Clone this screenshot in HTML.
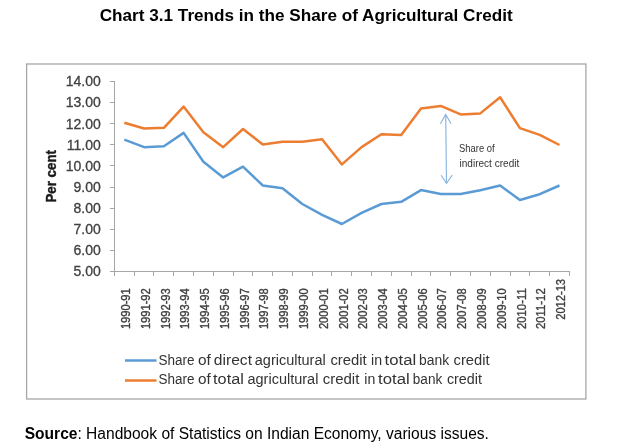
<!DOCTYPE html>
<html><head><meta charset="utf-8">
<style>
html,body{margin:0;padding:0;background:#fff;}
body{width:623px;height:448px;overflow:hidden;}
svg{display:block;font-family:"Liberation Sans", sans-serif;will-change:transform;}
</style></head><body>
<svg width="623" height="448" viewBox="0 0 623 448">
<text x="99.7" y="20.7" font-weight="bold" font-size="16.5" fill="#000" textLength="413" lengthAdjust="spacingAndGlyphs">Chart 3.1 Trends in the Share of Agricultural Credit</text>
<rect x="26.6" y="64" width="559.3" height="335" fill="none" stroke="#a6a6a6" stroke-width="1.3"/>
<path d="M114.5 81 V276 M110 271.5 H570" stroke="#a6a6a6" stroke-width="1" fill="none"/>
<path d="M110 81.5 H114 M110 102.5 H114 M110 123.5 H114 M110 144.5 H114 M110 165.5 H114 M110 187.5 H114 M110 208.5 H114 M110 229.5 H114 M110 250.5 H114 M110 271.5 H114 M114.5 272 V276 M134.5 272 V276 M153.5 272 V276 M173.5 272 V276 M193.5 272 V276 M213.5 272 V276 M233.5 272 V276 M252.5 272 V276 M272.5 272 V276 M292.5 272 V276 M312.5 272 V276 M331.5 272 V276 M351.5 272 V276 M371.5 272 V276 M391.5 272 V276 M411.5 272 V276 M430.5 272 V276 M450.5 272 V276 M470.5 272 V276 M490.5 272 V276 M510.5 272 V276 M529.5 272 V276 M549.5 272 V276 M569.5 272 V276" stroke="#a6a6a6" stroke-width="1" fill="none"/>
<text x="100.8" y="86.3" font-size="14" fill="#404040" stroke="#404040" stroke-width="0.3" text-anchor="end">14.00</text>
<text x="100.8" y="107.4" font-size="14" fill="#404040" stroke="#404040" stroke-width="0.3" text-anchor="end">13.00</text>
<text x="100.8" y="128.5" font-size="14" fill="#404040" stroke="#404040" stroke-width="0.3" text-anchor="end">12.00</text>
<text x="100.8" y="149.6" font-size="14" fill="#404040" stroke="#404040" stroke-width="0.3" text-anchor="end">11.00</text>
<text x="100.8" y="170.7" font-size="14" fill="#404040" stroke="#404040" stroke-width="0.3" text-anchor="end">10.00</text>
<text x="100.8" y="191.8" font-size="14" fill="#404040" stroke="#404040" stroke-width="0.3" text-anchor="end">9.00</text>
<text x="100.8" y="213.0" font-size="14" fill="#404040" stroke="#404040" stroke-width="0.3" text-anchor="end">8.00</text>
<text x="100.8" y="234.1" font-size="14" fill="#404040" stroke="#404040" stroke-width="0.3" text-anchor="end">7.00</text>
<text x="100.8" y="255.2" font-size="14" fill="#404040" stroke="#404040" stroke-width="0.3" text-anchor="end">6.00</text>
<text x="100.8" y="276.3" font-size="14" fill="#404040" stroke="#404040" stroke-width="0.3" text-anchor="end">5.00</text>
<text transform="translate(129.9,288.3) rotate(-90)" x="0" y="0" font-size="12" fill="#404040" stroke="#404040" stroke-width="0.35" text-anchor="end" textLength="40.8" lengthAdjust="spacingAndGlyphs">1990-91</text>
<text transform="translate(149.7,288.3) rotate(-90)" x="0" y="0" font-size="12" fill="#404040" stroke="#404040" stroke-width="0.35" text-anchor="end" textLength="40.8" lengthAdjust="spacingAndGlyphs">1991-92</text>
<text transform="translate(169.5,288.3) rotate(-90)" x="0" y="0" font-size="12" fill="#404040" stroke="#404040" stroke-width="0.35" text-anchor="end" textLength="40.8" lengthAdjust="spacingAndGlyphs">1992-93</text>
<text transform="translate(189.2,288.3) rotate(-90)" x="0" y="0" font-size="12" fill="#404040" stroke="#404040" stroke-width="0.35" text-anchor="end" textLength="40.8" lengthAdjust="spacingAndGlyphs">1993-94</text>
<text transform="translate(209.0,288.3) rotate(-90)" x="0" y="0" font-size="12" fill="#404040" stroke="#404040" stroke-width="0.35" text-anchor="end" textLength="40.8" lengthAdjust="spacingAndGlyphs">1994-95</text>
<text transform="translate(228.8,288.3) rotate(-90)" x="0" y="0" font-size="12" fill="#404040" stroke="#404040" stroke-width="0.35" text-anchor="end" textLength="40.8" lengthAdjust="spacingAndGlyphs">1995-96</text>
<text transform="translate(248.6,288.3) rotate(-90)" x="0" y="0" font-size="12" fill="#404040" stroke="#404040" stroke-width="0.35" text-anchor="end" textLength="40.8" lengthAdjust="spacingAndGlyphs">1996-97</text>
<text transform="translate(268.4,288.3) rotate(-90)" x="0" y="0" font-size="12" fill="#404040" stroke="#404040" stroke-width="0.35" text-anchor="end" textLength="40.8" lengthAdjust="spacingAndGlyphs">1997-98</text>
<text transform="translate(288.1,288.3) rotate(-90)" x="0" y="0" font-size="12" fill="#404040" stroke="#404040" stroke-width="0.35" text-anchor="end" textLength="40.8" lengthAdjust="spacingAndGlyphs">1998-99</text>
<text transform="translate(307.9,288.3) rotate(-90)" x="0" y="0" font-size="12" fill="#404040" stroke="#404040" stroke-width="0.35" text-anchor="end" textLength="40.8" lengthAdjust="spacingAndGlyphs">1999-00</text>
<text transform="translate(327.7,288.3) rotate(-90)" x="0" y="0" font-size="12" fill="#404040" stroke="#404040" stroke-width="0.35" text-anchor="end" textLength="40.8" lengthAdjust="spacingAndGlyphs">2000-01</text>
<text transform="translate(347.5,288.3) rotate(-90)" x="0" y="0" font-size="12" fill="#404040" stroke="#404040" stroke-width="0.35" text-anchor="end" textLength="40.8" lengthAdjust="spacingAndGlyphs">2001-02</text>
<text transform="translate(367.2,288.3) rotate(-90)" x="0" y="0" font-size="12" fill="#404040" stroke="#404040" stroke-width="0.35" text-anchor="end" textLength="40.8" lengthAdjust="spacingAndGlyphs">2002-03</text>
<text transform="translate(387.0,288.3) rotate(-90)" x="0" y="0" font-size="12" fill="#404040" stroke="#404040" stroke-width="0.35" text-anchor="end" textLength="40.8" lengthAdjust="spacingAndGlyphs">2003-04</text>
<text transform="translate(406.8,288.3) rotate(-90)" x="0" y="0" font-size="12" fill="#404040" stroke="#404040" stroke-width="0.35" text-anchor="end" textLength="40.8" lengthAdjust="spacingAndGlyphs">2004-05</text>
<text transform="translate(426.6,288.3) rotate(-90)" x="0" y="0" font-size="12" fill="#404040" stroke="#404040" stroke-width="0.35" text-anchor="end" textLength="40.8" lengthAdjust="spacingAndGlyphs">2005-06</text>
<text transform="translate(446.4,288.3) rotate(-90)" x="0" y="0" font-size="12" fill="#404040" stroke="#404040" stroke-width="0.35" text-anchor="end" textLength="40.8" lengthAdjust="spacingAndGlyphs">2006-07</text>
<text transform="translate(466.2,288.3) rotate(-90)" x="0" y="0" font-size="12" fill="#404040" stroke="#404040" stroke-width="0.35" text-anchor="end" textLength="40.8" lengthAdjust="spacingAndGlyphs">2007-08</text>
<text transform="translate(485.9,288.3) rotate(-90)" x="0" y="0" font-size="12" fill="#404040" stroke="#404040" stroke-width="0.35" text-anchor="end" textLength="40.8" lengthAdjust="spacingAndGlyphs">2008-09</text>
<text transform="translate(505.7,288.3) rotate(-90)" x="0" y="0" font-size="12" fill="#404040" stroke="#404040" stroke-width="0.35" text-anchor="end" textLength="40.8" lengthAdjust="spacingAndGlyphs">2009-10</text>
<text transform="translate(525.5,288.3) rotate(-90)" x="0" y="0" font-size="12" fill="#404040" stroke="#404040" stroke-width="0.35" text-anchor="end" textLength="40.8" lengthAdjust="spacingAndGlyphs">2010-11</text>
<text transform="translate(545.3,288.3) rotate(-90)" x="0" y="0" font-size="12" fill="#404040" stroke="#404040" stroke-width="0.35" text-anchor="end" textLength="40.8" lengthAdjust="spacingAndGlyphs">2011-12</text>
<text transform="translate(565.1,279.0) rotate(-90)" x="0" y="0" font-size="12" fill="#404040" stroke="#404040" stroke-width="0.35" text-anchor="end" textLength="40.8" lengthAdjust="spacingAndGlyphs">2012-13</text>
<text transform="translate(56.0,202.6) rotate(-90)" font-size="14" font-weight="bold" fill="#1a1a1a" stroke="#1a1a1a" stroke-width="0.4" textLength="52.6" lengthAdjust="spacingAndGlyphs">Per cent</text>
<polyline points="124.3,139.6 144.1,147.2 163.9,146.3 183.6,132.9 203.4,161.7 223.2,177.4 243.0,166.7 262.8,185.5 282.5,188.2 302.3,204.0 322.1,214.8 341.9,224.0 361.6,212.8 381.4,204.0 401.2,201.8 421.0,190.1 440.8,193.9 460.6,193.9 480.3,190.2 500.1,185.5 519.9,200.0 539.7,194.2 559.5,185.5" fill="none" stroke="#5b9bd5" stroke-width="2.5" stroke-linejoin="round" stroke-linecap="butt"/>
<polyline points="124.3,122.7 144.1,128.5 163.9,127.8 183.6,106.6 203.4,132.2 223.2,147.2 243.0,129.0 262.8,144.5 282.5,141.8 302.3,141.8 322.1,139.2 341.9,164.4 361.6,147.1 381.4,134.3 401.2,134.9 421.0,108.4 440.8,105.9 460.6,114.4 480.3,113.4 500.1,97.3 519.9,128.1 539.7,134.9 559.5,145.0" fill="none" stroke="#ed7d31" stroke-width="2.5" stroke-linejoin="round" stroke-linecap="butt"/>
<path d="M445.7 114.5 L446.5 183.5 M440.4 123.8 L445.7 114.5 L451 123.8 M441.2 175.2 L446.5 183.5 L452.2 175.2" stroke="#8db8e2" stroke-width="1.2" fill="none"/>
<text x="459.1" y="151.8" font-size="10.5" fill="#333" textLength="35.5" lengthAdjust="spacingAndGlyphs">Share of</text>
<text x="459.5" y="167" font-size="10.5" fill="#333" textLength="59.8" lengthAdjust="spacingAndGlyphs">indirect credit</text>
<path d="M125 360.5 H156.5" stroke="#5b9bd5" stroke-width="2.5"/>
<path d="M125 380.5 H156.5" stroke="#ed7d31" stroke-width="2.5"/>
<text x="158.4" y="365" font-size="13.8" fill="#333" textLength="36.0" lengthAdjust="spacingAndGlyphs">Share</text>
<text x="198.0" y="365" font-size="13.8" fill="#333" textLength="12.8" lengthAdjust="spacingAndGlyphs">of</text>
<text x="213.8" y="365" font-size="13.8" fill="#333" textLength="38.2" lengthAdjust="spacingAndGlyphs">direct</text>
<text x="254.8" y="365" font-size="13.8" fill="#333" textLength="70.9" lengthAdjust="spacingAndGlyphs">agricultural</text>
<text x="330.4" y="365" font-size="13.8" fill="#333" textLength="36.2" lengthAdjust="spacingAndGlyphs">credit</text>
<text x="371.1" y="365" font-size="13.8" fill="#333" textLength="11.0" lengthAdjust="spacingAndGlyphs">in</text>
<text x="384.6" y="365" font-size="13.8" fill="#333" textLength="31.6" lengthAdjust="spacingAndGlyphs">total</text>
<text x="419.0" y="365" font-size="13.8" fill="#333" textLength="30.1" lengthAdjust="spacingAndGlyphs">bank</text>
<text x="453.6" y="365" font-size="13.8" fill="#333" textLength="36.0" lengthAdjust="spacingAndGlyphs">credit</text>
<text x="158.4" y="384.3" font-size="13.8" fill="#333" textLength="36.0" lengthAdjust="spacingAndGlyphs">Share</text>
<text x="198.0" y="384.3" font-size="13.8" fill="#333" textLength="12.8" lengthAdjust="spacingAndGlyphs">of</text>
<text x="213.1" y="384.3" font-size="13.8" fill="#333" textLength="30.7" lengthAdjust="spacingAndGlyphs">total</text>
<text x="247.5" y="384.3" font-size="13.8" fill="#333" textLength="70.9" lengthAdjust="spacingAndGlyphs">agricultural</text>
<text x="322.7" y="384.3" font-size="13.8" fill="#333" textLength="36.7" lengthAdjust="spacingAndGlyphs">credit</text>
<text x="364.3" y="384.3" font-size="13.8" fill="#333" textLength="11.0" lengthAdjust="spacingAndGlyphs">in</text>
<text x="378.1" y="384.3" font-size="13.8" fill="#333" textLength="31.6" lengthAdjust="spacingAndGlyphs">total</text>
<text x="412.8" y="384.3" font-size="13.8" fill="#333" textLength="29.4" lengthAdjust="spacingAndGlyphs">bank</text>
<text x="446.9" y="384.3" font-size="13.8" fill="#333" textLength="35.0" lengthAdjust="spacingAndGlyphs">credit</text>
<text x="24.7" y="439" font-size="15.57" fill="#000"><tspan font-weight="bold">Source</tspan>: Handbook of Statistics on Indian Economy, various issues.</text>
</svg>
</body></html>
